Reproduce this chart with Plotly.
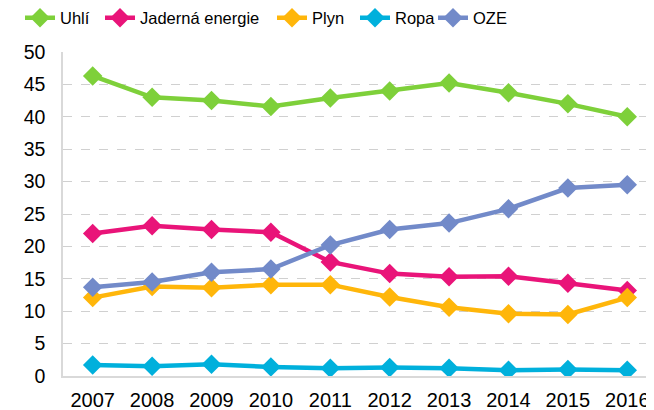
import plotly.graph_objects as go

years = ["2007", "2008", "2009", "2010", "2011", "2012", "2013", "2014", "2015", "2016"]
uhli = [46.3, 43.0, 42.5, 41.6, 42.9, 44.0, 45.2, 43.7, 42.0, 40.0]
jaderna = [22.0, 23.2, 22.6, 22.2, 17.6, 15.8, 15.3, 15.4, 14.3, 13.2]
plyn = [12.1, 13.8, 13.6, 14.1, 14.1, 12.2, 10.6, 9.6, 9.5, 12.1]
ropa = [1.7, 1.5, 1.8, 1.4, 1.2, 1.3, 1.2, 0.9, 1.0, 0.9]
oze = [13.7, 14.5, 16.0, 16.5, 20.2, 22.6, 23.6, 25.8, 29.0, 29.5]

series = [
    ("Uhlí", uhli, "#7ED03A"),
    ("Jaderná energie", jaderna, "#E91479"),
    ("Plyn", plyn, "#FFB60A"),
    ("Ropa", ropa, "#00B0DC"),
    ("OZE", oze, "#728AC9"),
]

# page body has an 8px margin, so the figure is sized to fill the rest of the window
W, H = 646, 402
legend_x = [12, 92, 264, 347, 425]  # left edge of each legend entry (figure px)

fig = go.Figure()
legend_layout = {}
for i, (name, vals, col) in enumerate(series):
    key = "legend" if i == 0 else f"legend{i + 1}"
    fig.add_trace(go.Scatter(
        x=years, y=vals, name=name, mode="lines+markers",
        line=dict(color=col, width=4.5),
        marker=dict(symbol="diamond", size=15, color=col),
        legend=key,
    ))
    legend_layout[key] = dict(
        orientation="h", xref="container", yref="container",
        x=legend_x[i] / W, xanchor="left", y=1 - 10 / H, yanchor="middle",
        font=dict(size=16.5, family="Liberation Sans, Arial, sans-serif", color="#000000"),
        itemwidth=30, bgcolor="rgba(0,0,0,0)",
    )

fig.update_layout(
    width=W, height=H,
    margin=dict(l=55, r=0, t=44, b=34, autoexpand=False),
    paper_bgcolor="white", plot_bgcolor="white",
    font=dict(family="Liberation Sans, Arial, sans-serif", size=19, color="#000000"),
    showlegend=True,
    **legend_layout,
)
fig.update_xaxes(type="category", range=[-0.5, 9.45], showgrid=False, automargin=False,
                 showline=True, linecolor="#D9D9D9", linewidth=1.5,
                 ticks="", tickfont=dict(size=20), ticklabelstandoff=5)
fig.update_yaxes(range=[0, 50], dtick=5, showgrid=True, gridcolor="#D0D0D0", automargin=False,
                 griddash="dash", gridwidth=1.2, zeroline=False,
                 showline=True, linecolor="#D9D9D9", linewidth=1.5,
                 ticks="", tickfont=dict(size=19.5), ticklabelstandoff=12)

fig.write_html("out.html")
